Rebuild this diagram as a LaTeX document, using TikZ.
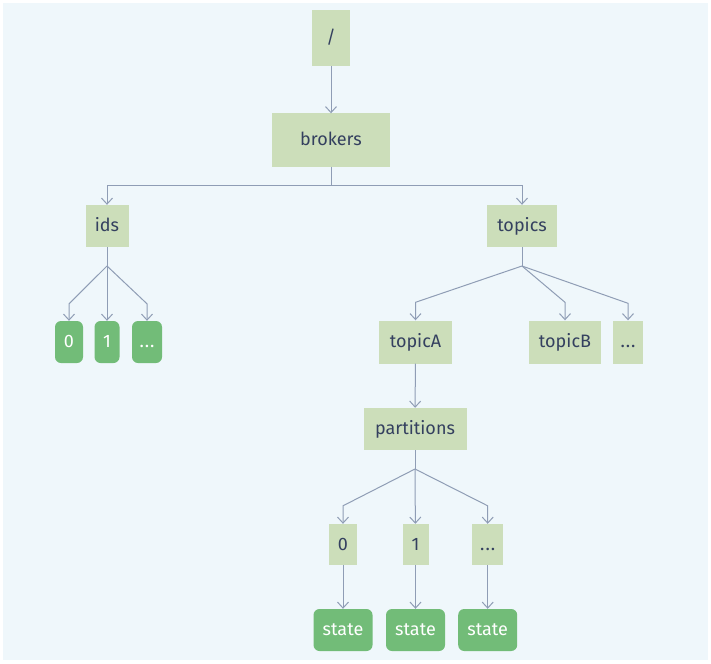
\documentclass[tikz,border=0pt]{standalone}
\usepackage{fontspec}
\setmainfont{Fira Sans}
\usetikzlibrary{arrows.meta,calc}
\definecolor{bgblue}{HTML}{EFF7FB}
\definecolor{leaf}{HTML}{CCDEBA}
\definecolor{deep}{HTML}{72BC78}
\definecolor{ink}{HTML}{34405F}
\definecolor{wire}{HTML}{8F9DB5}
\tikzset{
  x=1pt, y=-1pt,
  txt/.style={inner sep=0pt, text height=14pt, text depth=3pt, font=\fontsize{18}{21}\selectfont},
  dir/.style={txt, fill=leaf, text=ink},
  val/.style={txt, fill=deep, text=white, rounded corners=6pt},
  link/.style={draw=wire, line width=1pt, -{Straight Barb[length=6pt,width=11pt,line width=1pt]}},
  bare/.style={draw=wire, line width=1pt},
}
\begin{document}
\begin{tikzpicture}
% canvas
\fill[white] (0,0) rectangle (711,663);
\useasboundingbox (0,0) rectangle (711,663);
\fill[bgblue] (3,3) rectangle (708,660);

% directory nodes
\node[dir, minimum width=38pt, minimum height=56pt] (root) at (331,38) {/};
\node[dir, minimum width=118pt, minimum height=53pt] (brokers) at (331,140) {brokers};
\node[dir, minimum width=43pt, minimum height=42pt] (ids) at (107,226) {ids};
\node[dir, minimum width=70pt, minimum height=42pt] (topics) at (522,226) {topics};
\node[dir, minimum width=73pt, minimum height=43pt] (topicA) at (415.5,342) {topicA};
\node[dir, minimum width=72pt, minimum height=43pt] (topicB) at (565,342) {topicB};
\node[dir, minimum width=30pt, minimum height=43pt] (tmore) at (628,342) {.\kern1pt.\kern1pt.};
\node[dir, minimum width=103pt, minimum height=42pt] (parts) at (415,429) {partitions};
\node[dir, minimum width=28pt, minimum height=41pt] (p0) at (343,544.5) {0};
\node[dir, minimum width=26pt, minimum height=41pt] (p1) at (415.5,544.5) {1};
\node[dir, minimum width=31pt, minimum height=41pt] (pmore) at (487.7,544.5) {.\kern1pt.\kern1pt.};

% value nodes
\node[val, minimum width=28pt, minimum height=42pt] (id0) at (69,342) {0};
\node[val, minimum width=25pt, minimum height=42pt] (id1) at (107,342) {1};
\node[val, minimum width=30pt, minimum height=42pt] (idmore) at (147,342) {.\kern1pt.\kern1pt.};
\node[val, minimum width=59pt, minimum height=42pt] (s0) at (343,630) {state};
\node[val, minimum width=59pt, minimum height=42pt] (s1) at (415.5,630) {state};
\node[val, minimum width=59pt, minimum height=42pt] (smore) at (487.7,630) {state};

% branch points
\coordinate (bb) at (331,185);
\coordinate (ib) at (107,266);
\coordinate (tb) at (522,266);
\coordinate (pb) at (415,469);

% connectors
\draw[link] (root) -- (brokers);
\draw[bare] (brokers) -- (bb);
\draw[link] (bb) -| (ids);
\draw[link] (bb) -| (topics);

\draw[bare] (ids) -- (ib);
\draw[link] (ib) -- ($(id0.north)+(0,-17)$) -- (id0);
\draw[link] (ib) -- (id1);
\draw[link] (ib) -- ($(idmore.north)+(0,-17)$) -- (idmore);

\draw[bare] (topics) -- (tb);
\draw[link] (tb) -- ($(topicA.north)+(0,-18)$) -- (topicA);
\draw[link] (tb) -- ($(topicB.north)+(0,-18)$) -- (topicB);
\draw[link] (tb) -- ($(tmore.north)+(0,-17)$) -- (tmore);

\draw[link] (topicA) -- (parts);

\draw[bare] (parts) -- (pb);
\draw[link] (pb) -- ($(p0.north)+(0,-18)$) -- (p0);
\draw[link] (pb) -- (p1);
\draw[link] (pb) -- ($(pmore.north)+(0,-18)$) -- (pmore);

\draw[link] (p0) -- (s0);
\draw[link] (p1) -- (s1);
\draw[link] (pmore) -- (smore);
\end{tikzpicture}
\end{document}
